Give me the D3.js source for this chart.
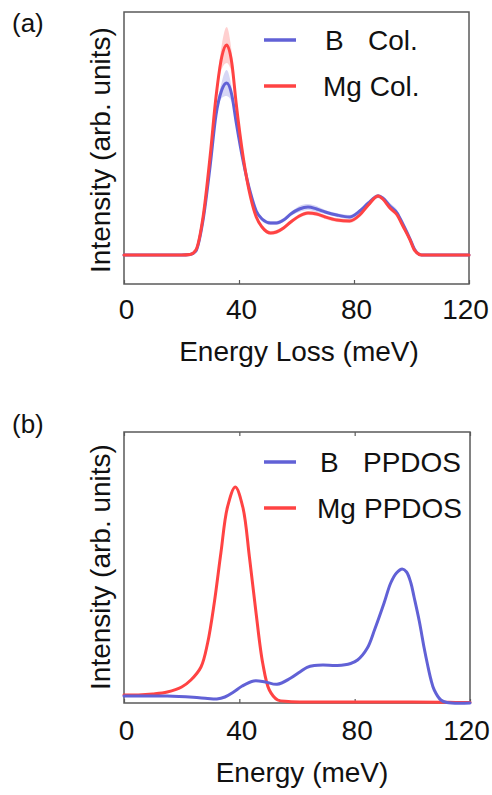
<!DOCTYPE html>
<html>
<head>
<meta charset="utf-8">
<script src="https://cdn.jsdelivr.net/npm/d3@7"></script>
<style>
  html, body { margin: 0; padding: 0; background: #fff; }
  svg { display: block; font-family: "Liberation Sans", Arial, sans-serif; }
</style>
</head>
<body>
<svg id="chart" width="492" height="795"></svg>
<script>
// ---------- data ----------
const xTicks = [0, 40, 80, 120];

// Panel (a): collision-resolved spectra (energy loss in meV, intensity arb.)
const energyA = [0, 20, 23, 25, 27.5, 30, 32, 34, 35.7, 37.5, 39, 41.5, 44, 46, 48, 51, 53, 55.5, 58, 61, 64, 67, 70, 74, 78.5, 82, 85, 88.4, 90, 92.5, 95, 97, 99.5, 101, 103.5, 120];
const bCol  = [0, 0, 0.5, 4, 35, 90, 140, 165, 172, 160, 133, 93, 62, 44, 36, 32, 32, 35, 41, 46, 48, 46, 43, 40, 38, 44, 52, 59, 57, 49, 42, 31, 16, 6, 0, 0];
const mgCol = [0, 0, 0.5, 5, 38, 100, 158, 198, 210, 192, 152, 97, 58, 38, 28, 22, 23, 27, 33, 39, 42, 41, 38, 35, 34, 40, 50, 59, 56, 47, 40, 29, 15, 5, 0, 0];
const bColSpread  = [0, 0, 1, 2, 2, 3, 4, 8, 13, 7, 4, 3, 2, 2, 2, 2, 2, 2, 2, 3, 3, 3, 2, 2, 2, 2, 2, 2, 2, 3, 3, 2, 2, 1, 0, 0];
const mgColSpread = [0, 0, 1, 2, 2, 3, 5, 12, 18, 10, 4, 3, 2, 2, 2, 2, 2, 2, 2, 2, 2, 2, 2, 2, 2, 2, 2, 2, 2, 2, 2, 2, 2, 1, 0, 0];

// Panel (b): partial phonon DOS
const energyBMg = [0, 5, 10, 15, 20, 23.2, 26.7, 29, 31.3, 33.6, 35.9, 38.6, 41.2, 43.5, 45.8, 48.1, 50.4, 53.3, 57, 65, 80, 100, 110, 115, 120];
const mgPPDOS   = [8, 8, 9, 11, 16, 23, 36, 60, 100, 150, 196, 216, 196, 146, 90, 40, 13, 3, 1.5, 1, 1, 1, 0.8, 0.5, 0.5];
const energyBB  = [0, 8, 15, 24, 29, 32.2, 35, 38, 41, 45, 49, 53.1, 57.7, 61, 63.5, 66, 69, 74, 78.6, 81, 84.4, 87, 90.2, 92.5, 94.5, 96.5, 98, 99.5, 100.6, 102.4, 104.1, 105.3, 106.4, 107.6, 109.9, 112, 120];
const bPPDOS    = [7, 7, 7, 5.7, 4.5, 4, 6, 11, 17, 22, 21, 18.7, 24.7, 31, 35.7, 37.5, 38, 37.5, 39.5, 43, 55, 74, 100, 120, 130, 134, 131, 120, 106, 82, 55, 38, 24, 13, 3, 0.5, 0];

const legendA = ["B", "Mg"];
const legendASuffix = "Col.";
const legendBSuffix = "PPDOS";

// ---------- styling ----------
const BLUE = "#6161d6";
const RED = "#ff4343";
const FRAME = "#5a5a5a";
const FS = 28;

const svg = d3.select("#chart");

function panel(opts) {
  const { left, right, top, bottom, yDomain, tickPad, topTicks } = opts;
  const x = d3.scaleLinear().domain([0, 120]).range([left, right]);
  const y = d3.scaleLinear().domain(yDomain).range([bottom, top]);
  const g = svg.append("g");

  const ax = g.append("g").attr("transform", `translate(0,${bottom})`)
    .call(d3.axisBottom(x).tickValues(xTicks).tickFormat(d3.format("d"))
      .tickSizeInner(-4).tickSizeOuter(0).tickPadding(tickPad));
  ax.select(".domain").remove();
  ax.selectAll(".tick line").attr("stroke", FRAME).attr("stroke-width", 1.2);
  ax.selectAll(".tick text").attr("font-size", FS).attr("fill", "#111")
    .attr("font-family", "Liberation Sans, Arial, sans-serif")
    .attr("dx", d => d === 120 ? -4 : 2);

  if (topTicks) {
    const at = g.append("g").attr("transform", `translate(0,${top})`)
      .call(d3.axisTop(x).tickValues(xTicks).tickFormat("")
        .tickSizeInner(-4).tickSizeOuter(0));
    at.select(".domain").remove();
    at.selectAll(".tick line").attr("stroke", FRAME).attr("stroke-width", 1.2);
  }

  g.append("rect").attr("x", left).attr("y", top)
    .attr("width", right - left).attr("height", bottom - top)
    .attr("fill", "none").attr("stroke", FRAME).attr("stroke-width", 1.5);

  return { g, x, y };
}

function drawLine(p, xs, ys, color, width, curve) {
  const data = xs.map((d, i) => [d, ys[i]]);
  p.g.append("path").datum(data)
    .attr("fill", "none").attr("stroke", color).attr("stroke-width", width)
    .attr("stroke-linejoin", "round").attr("stroke-linecap", "round")
    .attr("d", d3.line().x(d => p.x(d[0])).y(d => p.y(d[1])).curve(curve || d3.curveMonotoneX));
}

function drawBand(p, xs, ys, spread, color) {
  const data = xs.map((d, i) => [d, ys[i], spread[i]]);
  p.g.append("path").datum(data)
    .attr("fill", color).attr("fill-opacity", 0.25).attr("stroke", "none")
    .attr("d", d3.area().x(d => p.x(d[0]))
      .y0(d => p.y(d[1] - d[2])).y1(d => p.y(d[1] + d[2])).curve(d3.curveMonotoneX));
}

function yLabel(cy) {
  svg.append("text").attr("transform", `translate(110,${cy}) rotate(-90)`)
    .attr("text-anchor", "middle").attr("font-size", FS).attr("fill", "#111")
    .text("Intensity (arb. units)");
}

function legendRow(yLine, color, name, nameX, suffix, suffixX) {
  svg.append("line").attr("x1", 264).attr("x2", 296).attr("y1", yLine).attr("y2", yLine)
    .attr("stroke", color).attr("stroke-width", 3.5);
  svg.append("text").attr("x", nameX).attr("y", yLine + 10).attr("font-size", FS)
    .attr("fill", "#111").text(name);
  svg.append("text").attr("x", suffixX).attr("y", yLine + 10).attr("font-size", FS)
    .attr("fill", "#111").text(suffix);
}

const smooth = d3.curveCatmullRom.alpha(0.5);

// ---------- panel (a) ----------
const pa = panel({ left: 124, right: 469, top: 12, bottom: 284, yDomain: [-29, 243], tickPad: 15, topTicks: false });
drawBand(pa, energyA, bCol, bColSpread, BLUE);
drawBand(pa, energyA, mgCol, mgColSpread, RED);
drawLine(pa, energyA, bCol, BLUE, 3);
drawLine(pa, energyA, mgCol, RED, 3);
yLabel(150);
svg.append("text").attr("x", 299).attr("y", 361).attr("text-anchor", "middle")
  .attr("font-size", FS).attr("fill", "#111").text("Energy Loss (meV)");
svg.append("text").attr("x", 12).attr("y", 32).attr("font-size", 26).attr("fill", "#111").text("(a)");
legendRow(40, BLUE, legendA[0], 325, legendASuffix, 368);
legendRow(86, RED, legendA[1], 323, legendASuffix, 369.7);

// ---------- panel (b) ----------
const pb = panel({ left: 124, right: 470, top: 432, bottom: 703, yDomain: [0, 271], tickPad: 17, topTicks: true });
drawLine(pb, energyBMg, mgPPDOS, RED, 3, smooth);
drawLine(pb, energyBB, bPPDOS, BLUE, 3, smooth);
yLabel(567);
svg.append("text").attr("x", 302).attr("y", 782).attr("text-anchor", "middle")
  .attr("font-size", FS).attr("fill", "#111").text("Energy (meV)");
svg.append("text").attr("x", 12).attr("y", 433).attr("font-size", 26).attr("fill", "#111").text("(b)");
legendRow(462, BLUE, legendA[0], 320, legendBSuffix, 363);
legendRow(508, RED, legendA[1], 317, legendBSuffix, 364);
</script>
</body>
</html>
